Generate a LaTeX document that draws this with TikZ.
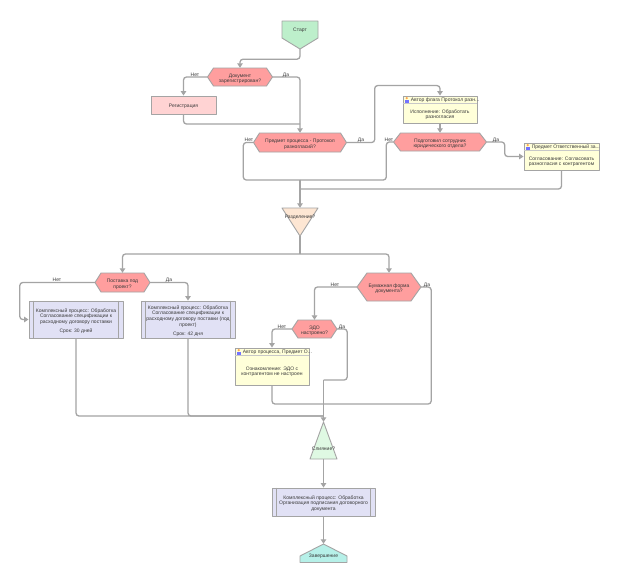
\documentclass[tikz,border=0pt]{standalone}
\usepackage{fontspec}
\setmainfont{Liberation Sans}
\usetikzlibrary{arrows.meta,calc}
\definecolor{edgec}{HTML}{A4A4A4}
\definecolor{textc}{HTML}{3A3A3A}
\definecolor{hexc}{HTML}{FF9E9E}
\definecolor{regc}{HTML}{FFD3D3}
\definecolor{yelc}{HTML}{FFFFD9}
\definecolor{subc}{HTML}{E1E1F5}
\definecolor{startc}{HTML}{BDEFCB}
\definecolor{splitc}{HTML}{FDE6D3}
\definecolor{mergec}{HTML}{DFF9E3}
\definecolor{endc}{HTML}{B6F0E8}
\tikzset{
  every node/.style={font=\fontsize{5}{5.6}\selectfont,text=textc,align=center,inner sep=0pt},
  shapeline/.style={draw=edgec,line width=0.9pt,line join=round},
  anchorbox/.style={rectangle,draw=none},
  conn/.style={draw=edgec,line width=1.3pt,rounded corners=3pt},
  arr/.style={conn,-{Triangle[width=5.5pt,length=4.5pt,fill=edgec]}},
  answer/.style={text=textc},
  capt/.style={label={[yshift=-1.6pt,label distance=0pt]center:{#1}}},
}
% hexagon: name, cx, cy, w, h, inset, text
\newcommand{\hexa}[7]{%
  \path[shapeline,fill=hexc] (#2-#4/2,#3) -- (#2-#4/2+#6,#3-#5/2) -- (#2+#4/2-#6,#3-#5/2)
    -- (#2+#4/2,#3) -- (#2+#4/2-#6,#3+#5/2) -- (#2-#4/2+#6,#3+#5/2) -- cycle;
  \node[anchorbox,minimum width=#4pt,minimum height=#5pt,capt={#7}] (#1) at (#2,#3) {};}
% subprocess: name, cx, cy, w, h, text
\newcommand{\subproc}[6]{%
  \node[shapeline,fill=subc,rectangle,minimum width=#4pt,minimum height=#5pt,capt={#6}] (#1) at (#2,#3) {};
  \draw[shapeline] ([xshift=5pt]#1.north west) -- ([xshift=5pt]#1.south west);
  \draw[shapeline] ([xshift=-5pt]#1.north east) -- ([xshift=-5pt]#1.south east);}
% task: name, cx, cy, w, h, header, body
\newcommand{\taskbox}[7]{%
  \node[shapeline,fill=yelc,rectangle,minimum width=#4pt,minimum height=#5pt] (#1) at (#2,#3) {};
  \draw[draw=edgec!60,line width=0.5pt] ([yshift=-8pt]#1.north west) -- ([yshift=-8pt]#1.north east);
  \fill[orange!70!white] ([xshift=4.2pt,yshift=-2.6pt]#1.north west) circle (1.3pt);
  \fill[blue!55!white] ([xshift=2.4pt,yshift=-7pt]#1.north west) rectangle ([xshift=6pt,yshift=-4.2pt]#1.north west);
  \node[anchor=west] (#1h) at ([xshift=8pt,yshift=-4.8pt]#1.north west) {#6};
  \node (#1b) at ($(#1.north)!0.5!(#1.south)+(0,-5.2pt)$) {#7};}
\begin{document}
\begin{tikzpicture}[x=1pt,y=-1pt]
\useasboundingbox[fill=white] (0,0) rectangle (624,566);

% Start
\path[shapeline,fill=startc] (282,21) -- (318,21) -- (318,38) -- (300,49) -- (282,38) -- cycle;
\node[anchorbox,minimum width=36pt,minimum height=28pt] (start) at (300,35) {};
\node (startl) at (300,30.5) {Старт};

\hexa{doc}{240}{77}{65}{18}{6}{Документ\\зарегистрирован?}
\node[shapeline,fill=regc,rectangle,minimum width=65pt,minimum height=18pt,capt={Регистрация}] (reg) at (183.5,105) {};
\hexa{pred}{300}{142.5}{93}{19}{6}{Предмет процесса - Протокол\\разногласий?}
\taskbox{ta}{440}{109.5}{74}{27}{Автор флага Протокол разн...}{Исполнение: Обработать\\разногласия}
\hexa{hb}{440}{142}{93}{18}{7}{Подготовил сотрудник\\юридического отдела?}
\taskbox{tb}{561.5}{156.5}{75}{27}{Предмет Ответственный за...}{Согласование: Согласовать\\разногласия с контрагентом}

% Split
\path[shapeline,fill=splitc] (282,208) -- (318,208) -- (300,236) -- cycle;
\node[anchorbox,minimum width=36pt,minimum height=28pt] (split) at (300,222) {};
\node (splitl) at (300,217.5) {Разделение?};

\hexa{post}{122.5}{282.5}{55}{19}{6}{Поставка под\\проект?}
\hexa{bum}{389}{287}{64}{28}{10}{Бумажная форма\\документа?}
\subproc{boxa}{76}{319.5}{94}{37}{Комплексный процесс: Обработка\\Согласование спецификации к\\расходному договору поставки\\[4pt]Срок: 30 дней}
\subproc{boxb}{188}{319.5}{94}{37}{Комплексный процесс: Обработка\\Согласование спецификации к\\расходному договору поставки (под\\проект)\\[4pt]Срок: 42 дня}
\hexa{edo}{314.5}{329}{45}{18}{6}{ЭДО\\настроено?}
\taskbox{tc}{272}{366.5}{74}{37}{Автор процесса, Предмет О...}{Ознакомление: ЭДО с\\контрагентом не настроен}

% Merge
\path[shapeline,fill=mergec] (323.5,422) -- (337,459) -- (310,459) -- cycle;
\node[anchorbox,minimum width=27pt,minimum height=37pt] (merge) at (323.5,440.5) {};
\node (mergel) at (323.5,448.5) {Слияние?};

\subproc{boxc}{323.5}{502}{103}{28}{Комплексный процесс: Обработка\\Организация подписания договорного\\документа}

% End
\path[shapeline,fill=endc] (323.5,544) -- (347,556) -- (347,562.5) -- (300,562.5) -- (300,556) -- cycle;
\node[anchorbox,minimum width=47pt,minimum height=18.5pt] (finish) at (323.5,553.25) {};
\node (finishl) at (323.5,556.5) {Завершение};

% Junctions
\coordinate (jreg) at (300,124);
\coordinate (ja) at (300,180);
\coordinate (jb) at (300,189);
\coordinate (jc) at (300,254);
\coordinate (jd) at (323.5,416);
\coordinate (je) at (323.5,404);
\coordinate (jf) at (323.5,380);

% Connectors
\draw[arr] (start.south) -- ++(0,10) -| (doc.north);
\draw[arr] (doc.west) -| (reg.north);
\draw[arr] (doc.east) -| (pred.north);
\draw[conn] (reg.south) |- (jreg);
\draw[conn] (pred.west) -- ++(-10,0) |- (ja);
\draw[arr] (pred.east) -- ++(28,0) |- ([yshift=10pt]ta.north) -- (ta.north);
\draw[arr] (ta.south) -- (hb.north);
\draw[conn] (hb.west) -- ++(-7,0) |- (ja);
\draw[arr] (hb.east) -- ++(18,0) |- (tb.west);
\draw[conn] (tb.south) |- (jb);
\draw[arr] (ja) -- (split.north);
\draw[conn] (split.south) -- (jc);
\draw[arr] (jc) -| (post.north);
\draw[arr] (jc) -| (bum.north);
\draw[arr] (post.west) -- ++(-75,0) |- (boxa.west);
\draw[arr] (post.east) -| (boxb.north);
\draw[conn] (boxa.south) |- (jd);
\draw[conn] (boxb.south) |- (jd);
\draw[arr] (bum.west) -| (edo.north);
\draw[conn] (bum.east) -- ++(10,0) |- (je);
\draw[arr] (edo.west) -| (tc.north);
\draw[conn] (edo.east) -- ++(10,0) |- (jf);
\draw[conn] (tc.south) |- (je);
\draw[arr] (jf) -- (merge.north);
\draw[arr] (merge.south) -- (boxc.north);
\draw[arr] (boxc.south) -- (finish.north);

% Answers
\node[answer] (l1) at (195,75) {Нет};
\node[answer] (l2) at (286,75) {Да};
\node[answer] (l3) at (249,140) {Нет};
\node[answer] (l4) at (361,140) {Да};
\node[answer] (l5) at (389,140) {Нет};
\node[answer] (l6) at (496,140) {Да};
\node[answer] (l7) at (57,280) {Нет};
\node[answer] (l8) at (169,280) {Да};
\node[answer] (l9) at (335,285) {Нет};
\node[answer] (l10) at (427,285) {Да};
\node[answer] (l11) at (282,327) {Нет};
\node[answer] (l12) at (342,327) {Да};
\end{tikzpicture}
\end{document}
